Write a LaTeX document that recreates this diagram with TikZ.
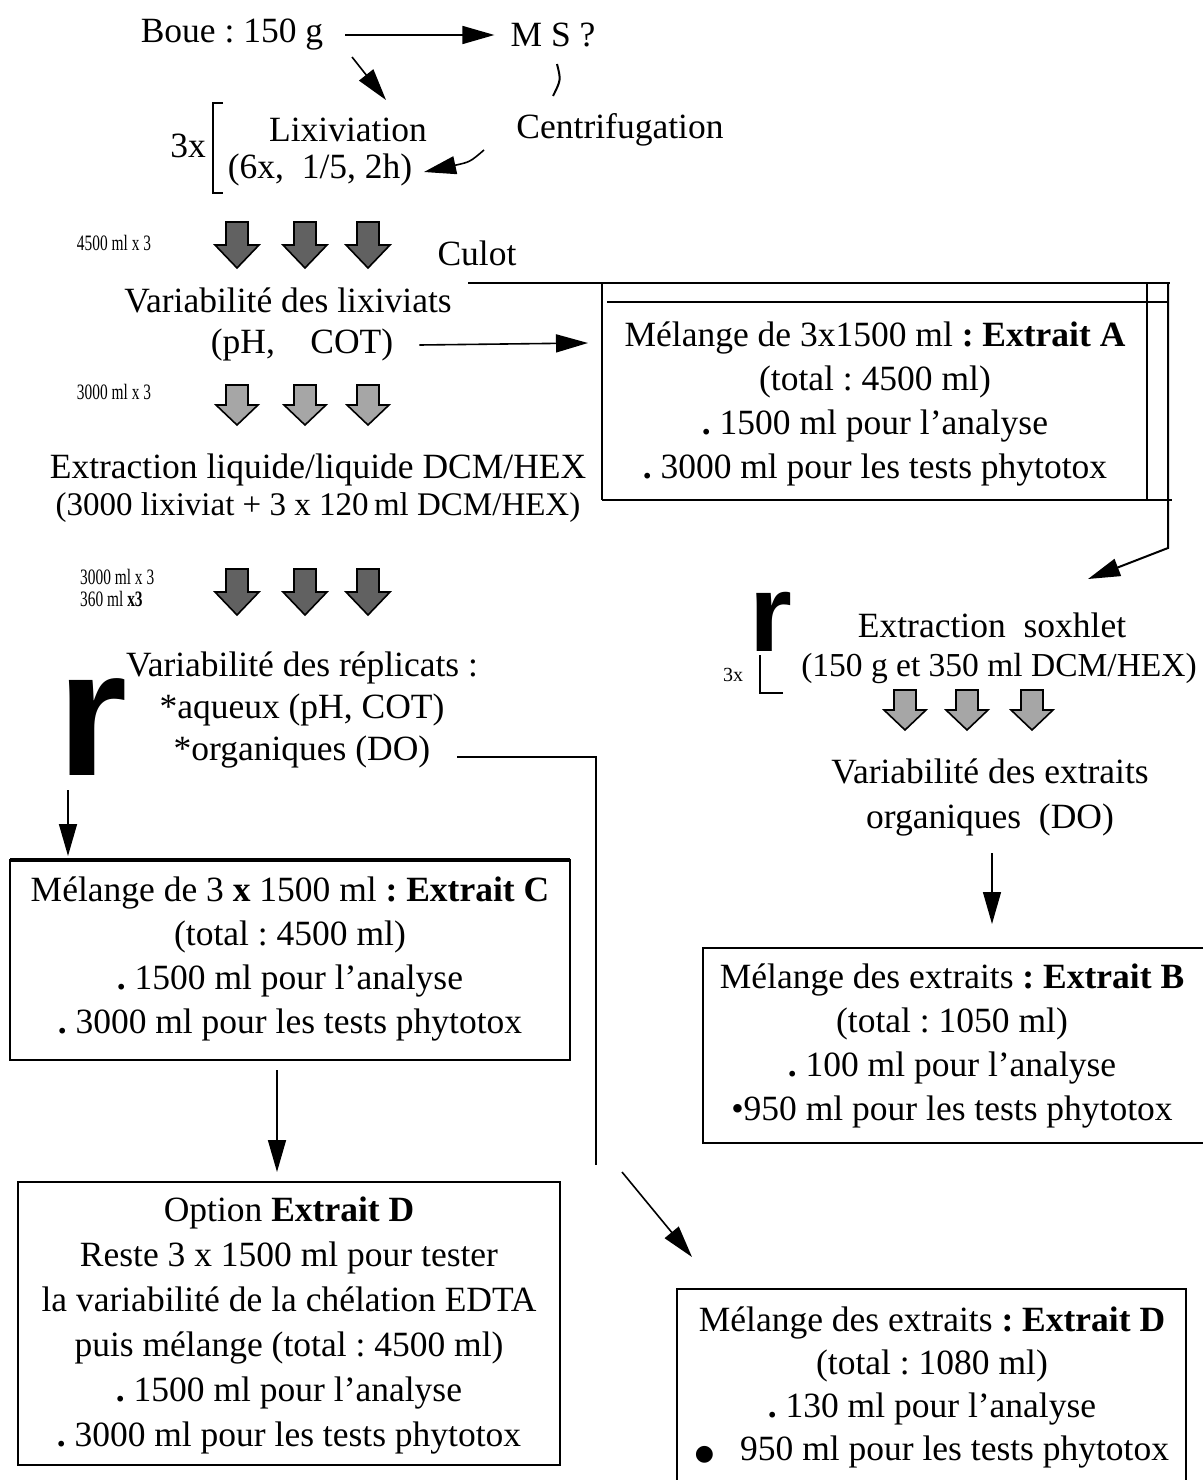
\documentclass[tikz,border=0pt]{standalone}
\usepackage{fontspec}
\usepackage{graphicx}
\setmainfont{Liberation Serif}
\newfontfamily\rfont{Liberation Sans}
\newfontfamily\dejavu{DejaVu Sans}
\usetikzlibrary{arrows.meta}
\frenchspacing
\begin{document}
\begin{tikzpicture}[x=1pt,y=-1pt,
  txt/.style={inner sep=0pt,align=center,font=\fontsize{35.5}{44}\selectfont},
  smalltxt/.style={inner sep=0pt,align=left,font=\fontsize{22}{22}\selectfont},
  conn/.style={line width=1.6pt,-{Triangle[length=32pt,width=18pt]}},
  boxframe/.style={line width=2.4pt},
  wire/.style={line width=2pt},
  pics/darkarrow/.style={code={\draw[line width=1.6pt,fill=black!62] (-11,-23) -- (11,-23) -- (11,0) -- (22,0) -- (0,23) -- (-22,0) -- (-11,0) -- cycle;}},
  pics/lightarrow/.style={code={\draw[line width=1.6pt,fill=black!35] (-11,-20) -- (11,-20) -- (11,0) -- (21,0) -- (0,20) -- (-21,0) -- (-11,0) -- cycle;}},
]
\useasboundingbox[fill=white] (0,0) rectangle (1203,1480);

% --- top
\node[txt] (boue) at (232,35) {Boue : 150 g};
\node[txt] (ms) at (553,35) {M S ?};
\draw[conn] ([xshift=22pt]boue.east) -- ([xshift=-16pt]ms.west);
\coordinate (d1) at (352,57); \coordinate (d2) at (386,100);
\draw[conn] (d1) -- (d2);
\coordinate (p1) at (557,64); \coordinate (p2) at (553,96);
\draw[wire] (p1) .. controls (561,80) .. (p2);

\node[txt] (three) at (188,146) {3x};
\draw[wire] (223,103) -- (213,103) -- (213,193) -- (223,193);
\node[txt] (lix) at (348,130) {Lixiviation};
\node[txt] (lixp) at (320,170) {(6x,\ \ 1/5, 2h)};
\node[txt] (centri) at (620,130) {Centrifugation};
\coordinate (c1) at (484,150); \coordinate (c2) at (424,172);
\draw[conn] (c1) .. controls (470,162) .. (c2);

% --- row 1 arrows
\node[smalltxt] (v1) at (114,243) {\scalebox{0.7}[1]{4500 ml x 3}};
\pic at (237,245) {darkarrow};
\pic at (305,245) {darkarrow};
\pic at (368,245) {darkarrow};
\node[txt] (culot) at (477,253) {Culot};

% --- box A
\draw[boxframe] (468,283) -- (1170,283);
\draw[boxframe] (602,283) -- (602,500);
\draw[boxframe] (607,302) -- (1168,302);
\draw[boxframe] (1147,283) -- (1147,500);
\draw[boxframe] (602,500) -- (1172,500);
\node[txt] (boxa) at (875,404) {Mélange de 3x1500 ml \textbf{: Extrait A}\\(total : 4500 ml)\\\textbf{.} 1500 ml pour l’analyse\\\textbf{.} 3000 ml pour les tests phytotox};
\coordinate (a1) at (1168,283); \coordinate (a2) at (1168,548); \coordinate (a3) at (1088,579);
\draw[conn,line width=2pt] (a1) -- (a2) -- (a3);

% --- lixiviats
\node[txt] (varl) at (288,300) {Variabilité des lixiviats};
\node[txt] (phcot) at (302,345) {(pH,\quad COT)};
\coordinate (boxaL) at (602,343);
\draw[conn] ([xshift=26pt]phcot.east) -- ([xshift=-14pt]boxaL);

\node[smalltxt] (v2) at (114,392) {\scalebox{0.7}[1]{3000 ml x 3}};
\pic at (237,405) {lightarrow};
\pic at (305,405) {lightarrow};
\pic at (368,405) {lightarrow};

\node[txt] (extl) at (318,470) {Extraction liquide/liquide DCM/HEX};
\node[txt,font=\fontsize{33}{36}\selectfont] (extlp) at (318,508) {(3000 lixiviat + 3 x 120\,ml DCM/HEX)};

\node[smalltxt,anchor=west] (v3a) at (80,577) {\scalebox{0.7}[1]{3000 ml x 3}};
\node[smalltxt,anchor=west] (v3b) at (80,599) {\scalebox{0.7}[1]{360 ml \textbf{x3}}};
\pic at (237,592) {darkarrow};
\pic at (305,592) {darkarrow};
\pic at (368,592) {darkarrow};

% --- soxhlet
\node[inner sep=0pt,font=\rfont\bfseries\fontsize{110}{110}\selectfont] (r2) at (771,622) {r};
\draw[line width=1.5pt] (783,693) -- (760,693) -- (760,655);
\node[smalltxt,font=\fontsize{20}{20}\selectfont] (sx) at (733,675) {3x};
\node[txt] (sox) at (992,625) {Extraction\ \ soxhlet};
\node[txt,font=\fontsize{33.5}{36}\selectfont] (soxp) at (999,668) {(150 g et 350 ml DCM/HEX)};
\pic at (905,710) {lightarrow};
\pic at (967,710) {lightarrow};
\pic at (1032,710) {lightarrow};
\node[txt,font=\fontsize{35.5}{45}\selectfont] (vare) at (990,797) {Variabilité des extraits\\organiques\ \ (DO)};
\coordinate (b1) at (992,853); \coordinate (b2) at (992,924);
\draw[conn,line width=1.4pt] (b1) -- (b2);

% --- box B
\draw[boxframe] (1203,948) -- (703,948) -- (703,1143) -- (1203,1143);
\node[txt] (boxb) at (952,1046) {Mélange des extraits \textbf{: Extrait B}\\(total : 1050 ml)\\\textbf{.} 100 ml pour l’analyse\\•950 ml pour les tests phytotox};

% --- replicats
\node[txt,font=\fontsize{35.5}{42}\selectfont] (repl) at (302,710) {Variabilité des réplicats :\\*aqueux (pH, COT)\\*organiques (DO)};
\coordinate (o1) at (457,757); \coordinate (o2) at (596,757); \coordinate (o3) at (596,1165);
\draw[wire] (o1) -- (o2) -- (o3);

\node[inner sep=0pt,font=\rfont\bfseries\fontsize{180}{180}\selectfont] (r1) at (93,727) {r};
\coordinate (r1a) at (68,790); \coordinate (r1b) at (68,856);
\draw[conn] (r1a) -- (r1b);

% --- box C
\draw[boxframe] (10,860) rectangle (570,1060);
\draw[line width=3.2pt] (10,860) -- (570,860);
\node[txt] (boxc) at (290,959) {Mélange de 3 \textbf{x} 1500 ml \textbf{: Extrait C}\\(total : 4500 ml)\\\textbf{.} 1500 ml pour l’analyse\\\textbf{.} 3000 ml pour les tests phytotox};
\coordinate (cc1) at (277,1070); \coordinate (cc2) at (277,1172);
\draw[conn] (cc1) -- (cc2);

% --- box D left
\draw[boxframe] (18,1182) rectangle (560,1465);
\node[txt,font=\fontsize{35.5}{45}\selectfont] (boxdl) at (289,1325) {Option \textbf{Extrait D}\\Reste 3 x 1500 ml pour tester\\la variabilité de la chélation EDTA\\puis mélange (total : 4500 ml)\\\textbf{.} 1500 ml pour l’analyse\\\textbf{.} 3000 ml pour les tests phytotox};

% --- box D right
\coordinate (dd1) at (622,1172); \coordinate (dd2) at (692,1257);
\draw[conn] (dd1) -- (dd2);
\draw[boxframe] (677,1480) -- (677,1289) -- (1186,1289) -- (1186,1480);
\node[txt,font=\fontsize{35.5}{43}\selectfont] (boxdr) at (932,1387) {Mélange des extraits \textbf{: Extrait D}\\(total : 1080 ml)\\\textbf{.} 130 ml pour l’analyse\\{\dejavu\fontsize{22}{22}\selectfont ●}\hspace{26pt}950 ml pour les tests phytotox};
\end{tikzpicture}
\end{document}
